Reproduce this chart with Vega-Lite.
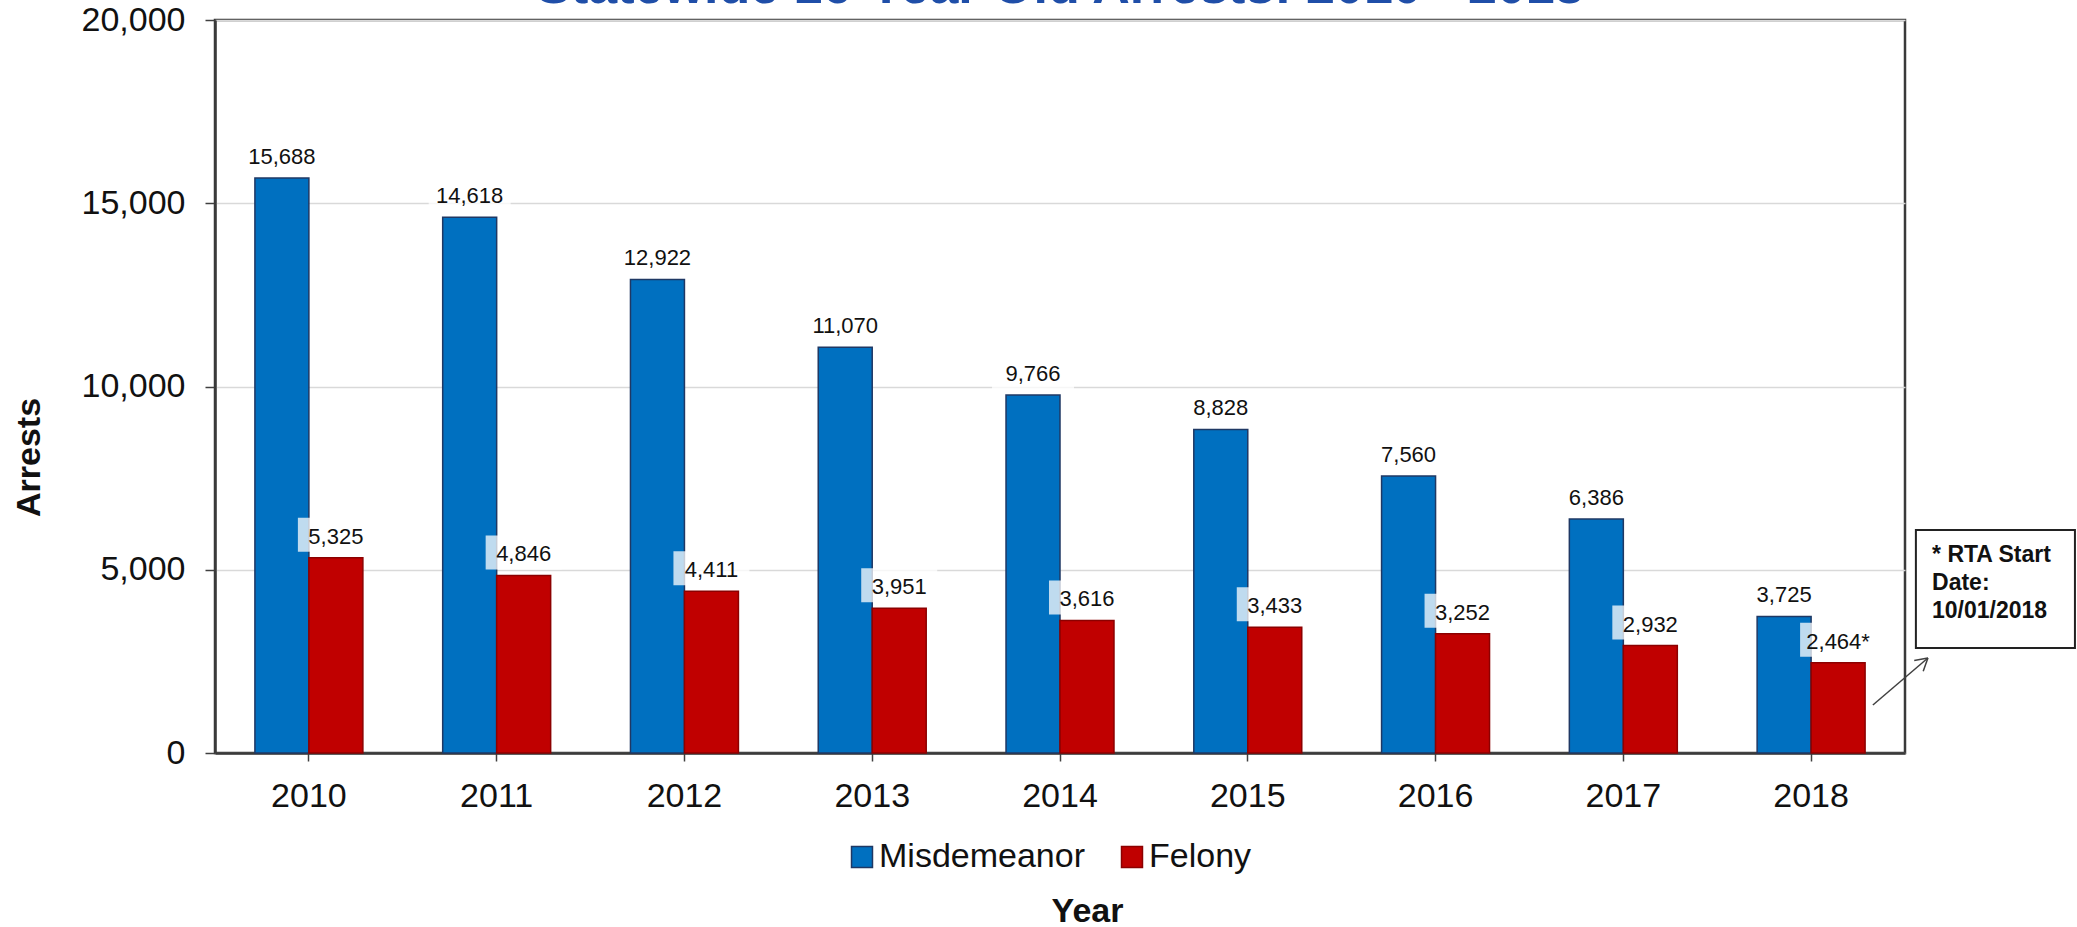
{
  "$schema": "https://vega.github.io/schema/vega-lite/v6.json",
  "width": 1690,
  "height": 733,
  "autosize": {"type": "none"},
  "padding": {"top": 20, "left": 215, "right": 172, "bottom": 174},
  "background": "white",
  "config": {
    "font": "Liberation Sans",
    "view": {"stroke": "#3a3a3a", "strokeWidth": 2.5},
    "legend": {
      "orient": "none",
      "legendX": 630,
      "legendY": 820,
      "direction": "horizontal",
      "padding": 0,
      "symbolType": "square",
      "symbolSize": 440,
      "symbolStrokeWidth": 1.5,
      "labelFontSize": 34,
      "labelColor": "#111111",
      "labelOffset": 0,
      "labelLimit": 0,
      "columnPadding": 30
    }
  },
  "datasets": {
    "arrests": [
      {"year": "2010", "type": "Misdemeanor", "arrests": 15688, "label": "15,688"},
      {"year": "2010", "type": "Felony", "arrests": 5325, "label": "5,325"},
      {"year": "2011", "type": "Misdemeanor", "arrests": 14618, "label": "14,618"},
      {"year": "2011", "type": "Felony", "arrests": 4846, "label": "4,846"},
      {"year": "2012", "type": "Misdemeanor", "arrests": 12922, "label": "12,922"},
      {"year": "2012", "type": "Felony", "arrests": 4411, "label": "4,411"},
      {"year": "2013", "type": "Misdemeanor", "arrests": 11070, "label": "11,070"},
      {"year": "2013", "type": "Felony", "arrests": 3951, "label": "3,951"},
      {"year": "2014", "type": "Misdemeanor", "arrests": 9766, "label": "9,766"},
      {"year": "2014", "type": "Felony", "arrests": 3616, "label": "3,616"},
      {"year": "2015", "type": "Misdemeanor", "arrests": 8828, "label": "8,828"},
      {"year": "2015", "type": "Felony", "arrests": 3433, "label": "3,433"},
      {"year": "2016", "type": "Misdemeanor", "arrests": 7560, "label": "7,560"},
      {"year": "2016", "type": "Felony", "arrests": 3252, "label": "3,252"},
      {"year": "2017", "type": "Misdemeanor", "arrests": 6386, "label": "6,386"},
      {"year": "2017", "type": "Felony", "arrests": 2932, "label": "2,932"},
      {"year": "2018", "type": "Misdemeanor", "arrests": 3725, "label": "3,725"},
      {"year": "2018", "type": "Felony", "arrests": 2464, "label": "2,464*"}
    ],
    "heading": [
      {"text": "Statewide 16-Year Old Arrests: 2010 - 2018", "xpos": 4.5, "ypos": 20464}
    ],
    "note_box": [
      {"left": 9.058, "right": 9.905, "top": 6085, "bottom": 2865}
    ],
    "note_lines": [
      {"line": "* RTA Start", "xpos": 9.144, "ypos": 5212},
      {"line": "Date:", "xpos": 9.144, "ypos": 4448},
      {"line": "10/01/2018", "xpos": 9.144, "ypos": 3684}
    ],
    "pointer": [
      {"x0": 8.829, "y0": 1310, "x1": 9.122, "y1": 2592},
      {"x0": 9.097, "y0": 2232, "x1": 9.122, "y1": 2592},
      {"x0": 9.049, "y0": 2524, "x1": 9.122, "y1": 2592}
    ]
  },
  "layer": [
    {
      "data": {"name": "arrests"},
      "encoding": {
        "x": {
          "field": "year",
          "type": "ordinal",
          "scale": {"paddingInner": 0.425, "paddingOuter": 0.2125},
          "axis": {
            "title": "Year",
            "labelAngle": 0,
            "labelFontSize": 34,
            "labelColor": "#111111",
            "labelPadding": 18,
            "tickSize": 8,
            "tickColor": "#404040",
            "tickWidth": 1.5,
            "domainColor": "#3a3a3a",
            "domainWidth": 2.5,
            "grid": false,
            "titleFontSize": 34,
            "titleFontWeight": "bold",
            "titleColor": "#111111",
            "titleX": 872,
            "titleY": 158,
            "titleAlign": "center",
            "titleBaseline": "middle"
          }
        },
        "xOffset": {
          "field": "type",
          "type": "nominal",
          "scale": {"domain": ["Misdemeanor", "Felony"]}
        },
        "y": {
          "field": "arrests",
          "type": "quantitative",
          "scale": {"domain": [0, 20000], "nice": false},
          "axis": {
            "title": "Arrests",
            "values": [0, 5000, 10000, 15000, 20000],
            "format": ",.0f",
            "labelFontSize": 34,
            "labelColor": "#111111",
            "labelPadding": 20,
            "tickSize": 10,
            "tickColor": "#404040",
            "tickWidth": 1.5,
            "domainColor": "#3a3a3a",
            "domainWidth": 2.5,
            "gridColor": "#D9D9D9",
            "gridWidth": 1.5,
            "titleFontSize": 34,
            "titleFontWeight": "bold",
            "titleColor": "#111111",
            "titleAngle": 270,
            "titleX": -186,
            "titleY": 437,
            "titleAlign": "center",
            "titleBaseline": "middle"
          }
        }
      },
      "layer": [
        {
          "mark": {"type": "bar", "strokeWidth": 1.5},
          "encoding": {
            "color": {
              "field": "type",
              "type": "nominal",
              "scale": {"domain": ["Misdemeanor", "Felony"], "range": ["#0070C0", "#C00000"]},
              "legend": {"title": null}
            },
            "stroke": {
              "field": "type",
              "type": "nominal",
              "scale": {"domain": ["Misdemeanor", "Felony"], "range": ["#1F3864", "#8C0000"]},
              "legend": {"title": null}
            }
          }
        },
        {
          "transform": [{"filter": "datum.type === 'Misdemeanor'"}],
          "mark": {"type": "tick", "orient": "horizontal", "size": 82, "thickness": 34, "yOffset": -23, "color": "white", "opacity": 0.75}
        },
        {
          "transform": [{"filter": "datum.type === 'Felony'"}],
          "mark": {"type": "tick", "orient": "horizontal", "size": 76, "thickness": 34, "yOffset": -23, "color": "white", "opacity": 0.75}
        },
        {
          "mark": {"type": "text", "baseline": "alphabetic", "align": "center", "dy": -14, "fontSize": 22, "color": "#111111"},
          "encoding": {"text": {"field": "label", "type": "nominal"}}
        }
      ]
    },
    {
      "layer": [
        {
          "data": {"name": "heading"},
          "mark": {"type": "text", "align": "center", "baseline": "alphabetic", "fontSize": 52, "fontWeight": "bold", "color": "#1F4EA8"},
          "encoding": {
            "x": {"field": "xpos", "type": "quantitative", "scale": {"domain": [0, 9], "nice": false, "zero": false}, "axis": null},
            "y": {"field": "ypos", "type": "quantitative", "scale": {"domain": [0, 20000], "nice": false}, "axis": null},
            "text": {"field": "text", "type": "nominal"}
          }
        },
        {
          "data": {"name": "note_box"},
          "mark": {"type": "rect", "fill": "white", "stroke": "#222222", "strokeWidth": 2},
          "encoding": {
            "x": {"field": "left", "type": "quantitative", "scale": {"domain": [0, 9], "nice": false, "zero": false}, "axis": null},
            "x2": {"field": "right"},
            "y": {"field": "top", "type": "quantitative", "scale": {"domain": [0, 20000], "nice": false}, "axis": null},
            "y2": {"field": "bottom"}
          }
        },
        {
          "data": {"name": "note_lines"},
          "mark": {"type": "text", "align": "left", "baseline": "alphabetic", "fontSize": 23, "fontWeight": "bold", "color": "#111111"},
          "encoding": {
            "x": {"field": "xpos", "type": "quantitative", "scale": {"domain": [0, 9], "nice": false, "zero": false}, "axis": null},
            "y": {"field": "ypos", "type": "quantitative", "scale": {"domain": [0, 20000], "nice": false}, "axis": null},
            "text": {"field": "line", "type": "nominal"}
          }
        },
        {
          "data": {"name": "pointer"},
          "mark": {"type": "rule", "color": "#404040", "strokeWidth": 1.5},
          "encoding": {
            "x": {"field": "x0", "type": "quantitative", "scale": {"domain": [0, 9], "nice": false, "zero": false}, "axis": null},
            "x2": {"field": "x1"},
            "y": {"field": "y0", "type": "quantitative", "scale": {"domain": [0, 20000], "nice": false}, "axis": null},
            "y2": {"field": "y1"}
          }
        }
      ]
    }
  ],
  "resolve": {"scale": {"x": "independent"}, "axis": {"y": "independent"}}
}
